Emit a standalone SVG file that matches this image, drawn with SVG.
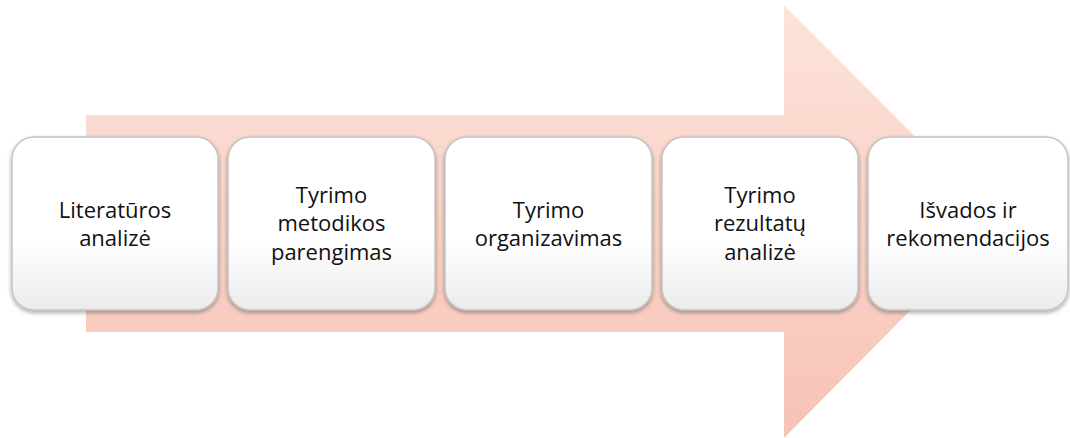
<svg xmlns="http://www.w3.org/2000/svg" width="1070" height="438" viewBox="0 0 1070 438">
<defs>
<linearGradient id="arrowGrad" x1="0" y1="0" x2="0" y2="1">
<stop offset="0" stop-color="#fde3da"/>
<stop offset="1" stop-color="#f6c3b5"/>
</linearGradient>
<linearGradient id="boxGrad" x1="0" y1="0" x2="0" y2="1">
<stop offset="0" stop-color="#ffffff"/>
<stop offset="0.6" stop-color="#ffffff"/>
<stop offset="1" stop-color="#ebebeb"/>
</linearGradient>
<filter id="shadow" x="-10%" y="-10%" width="120%" height="125%">
<feGaussianBlur in="SourceAlpha" stdDeviation="2"/>
<feOffset dx="0" dy="2" result="b"/>
<feComponentTransfer><feFuncA type="linear" slope="0.35"/></feComponentTransfer>
<feMerge><feMergeNode/><feMergeNode in="SourceGraphic"/></feMerge>
</filter>
</defs>
<style>
.box{fill:url(#boxGrad);stroke:#c4c4c4;stroke-width:1.5;filter:url(#shadow)}
.lbl{font-family:"Open Sans","Noto Sans","Liberation Sans",sans-serif;font-size:22px;fill:#111111;text-anchor:middle}
</style>
<g id="arrow">
<path d="M86,115 L784,115 L784,5 L999,221 L784,438 L784,332 L86,332 Z" fill="url(#arrowGrad)"/>
</g>
<g id="connectors"></g>
<g id="node1">
<rect class="box" x="12" y="137" width="206" height="173" rx="22"/>
<text class="lbl" x="115" y="218">Literatūros</text>
<text class="lbl" x="115" y="246">analizė</text>
</g>
<g id="node2">
<rect class="box" x="228" y="137" width="207" height="173" rx="22"/>
<text class="lbl" x="331.5" y="203">Tyrimo</text>
<text class="lbl" x="331.5" y="231">metodikos</text>
<text class="lbl" x="331.5" y="260">parengimas</text>
</g>
<g id="node3">
<rect class="box" x="445" y="137" width="207" height="173" rx="22"/>
<text class="lbl" x="548.5" y="218">Tyrimo</text>
<text class="lbl" x="548.5" y="246">organizavimas</text>
</g>
<g id="node4">
<rect class="box" x="662" y="137" width="196" height="173" rx="22"/>
<text class="lbl" x="760" y="203">Tyrimo</text>
<text class="lbl" x="760" y="231">rezultatų</text>
<text class="lbl" x="760" y="260">analizė</text>
</g>
<g id="node5">
<rect class="box" x="868" y="137" width="200" height="173" rx="22"/>
<text class="lbl" x="968" y="218">Išvados ir</text>
<text class="lbl" x="968" y="246">rekomendacijos</text>
</g>
</svg>
